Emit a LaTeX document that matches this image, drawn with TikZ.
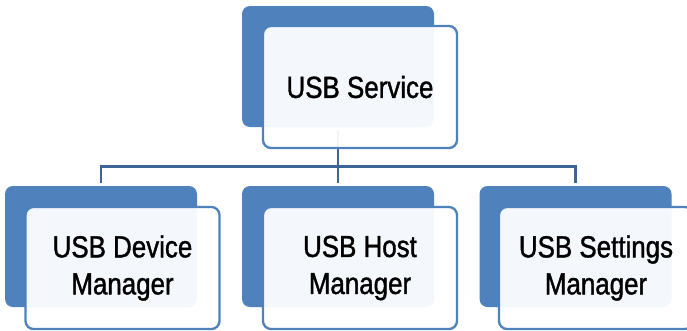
\documentclass[tikz,border=0pt]{standalone}
\usepackage{fontspec}
\setmainfont{Liberation Sans}[FakeStretch=0.85, FakeBold=1.2]
\usepackage{tikz}
\usetikzlibrary{positioning}

\definecolor{accent}{HTML}{4F81BD}
\definecolor{linkblue}{HTML}{3C6496}

\tikzset{
	back/.style={fill=accent, draw=none, rounded corners=8pt, minimum width=192pt, minimum height=121pt},
	front/.style={fill=white, fill opacity=0.94, text opacity=1, draw=accent, line width=2.3pt, rounded corners=8pt,
		minimum width=194pt, minimum height=122pt, align=center, font=\fontsize{30.5pt}{37pt}\selectfont},
	link/.style={draw=linkblue, line width=2.4pt}
}

\begin{document}
\begin{tikzpicture}[x=1pt, y=-1pt]
\useasboundingbox (0,0) rectangle (687,330);
% back boxes
\node[back] (svcback)  at (338,66.5) {};
\node[back] (devback)  at (101,246.5) {};
\node[back] (hostback) at (338,246.5) {};
\node[back] (setback)  at (575.5,246.5) {};
% connectors
\coordinate (bus) at (338,166.5);
\path[link]
([yshift=-3pt]svcback.south) edge (bus)
([yshift=3pt]devback.north) edge[to path={|- (\tikztotarget)}] (bus)
([yshift=3pt]setback.north) edge[to path={|- (\tikztotarget)}] (bus)
([yshift=3pt]hostback.north) edge (bus)
;
% front boxes
\node[front] (svc)  at (360,87)    {USB Service};
\node[front] (dev)  at (122.5,268) {USB Device\\Manager};
\node[front] (host) at (360,268) {USB Host\\Manager};
\node[front] (set)  at (596,268) {USB Settings\\Manager};
\end{tikzpicture}
\end{document}
